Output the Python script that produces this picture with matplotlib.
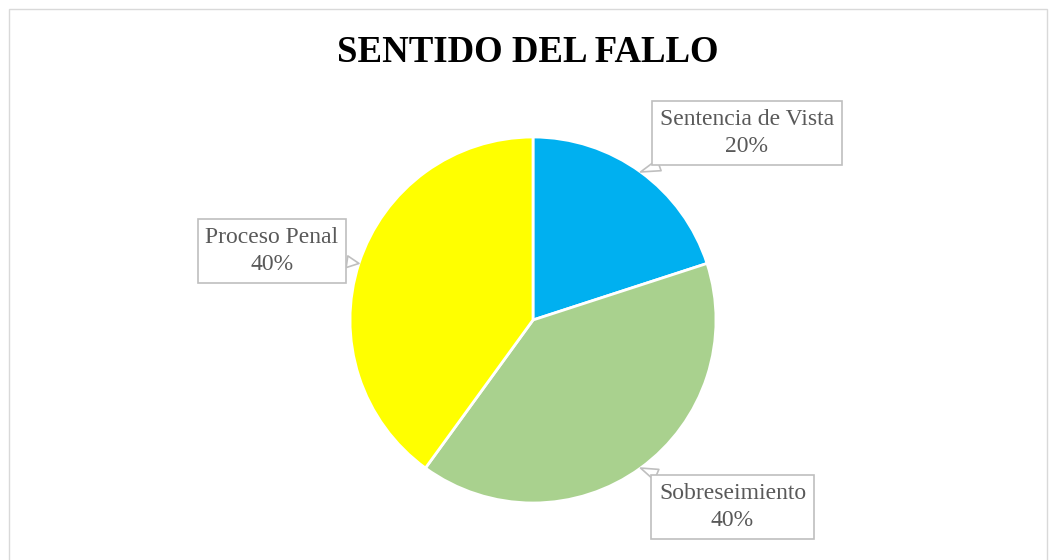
import matplotlib.pyplot as plt
import matplotlib.patches as mpatches
import numpy as np

# Data
labels = ["Sentencia de Vista", "Sobreseimiento", "Proceso Penal"]
values = [20, 40, 40]
colors = ["#00B0F0", "#A9D18E", "#FFFF00"]
title = "SENTIDO DEL FALLO"

# label box centres in pie-axes data units (radius = 1)
label_pos = [(1.169, 1.022), (1.090, -1.022), (-1.426, 0.377)]

plt.rcParams["font.family"] = ["Liberation Serif", "DejaVu Serif"]
TEXT_GRAY = "#595959"
BOX_GRAY = "#BFBFBF"

fig = plt.figure(figsize=(10.55, 5.6), dpi=100, facecolor="white")

# chart frame
fig.patches.append(mpatches.Rectangle((9 / 1055, -0.01), 1038 / 1055, 1 - 9 / 560 + 0.01,
                                      transform=fig.transFigure, fill=False,
                                      edgecolor="#D9D9D9", linewidth=1))

fig.text(0.5, 1 - 53 / 560, title, ha="center", va="center",
         fontsize=26.5, fontweight="bold", color="black")

ax = fig.add_axes([350 / 1055, 57 / 560, 366 / 1055, 366 / 560])
wedges, _ = ax.pie(values, colors=colors, startangle=90, counterclock=False,
                   radius=1, wedgeprops=dict(edgecolor="white", linewidth=2))
ax.set_xlim(-1, 1)
ax.set_ylim(-1, 1)
ax.set_aspect("equal")
ax.axis("off")

total = sum(values)
for w, lab, val, pos in zip(wedges, labels, values, label_pos):
    mid = np.deg2rad((w.theta1 + w.theta2) / 2)
    tip = (np.cos(mid), np.sin(mid))
    ax.annotate(f"{lab}\n{val / total:.0%}", xy=tip, xytext=pos,
                ha="center", va="center", fontsize=17, color=TEXT_GRAY,
                linespacing=1.35, annotation_clip=False,
                bbox=dict(boxstyle="square,pad=0.33", fc="white", ec=BOX_GRAY, lw=1.2),
                arrowprops=dict(arrowstyle="wedge,tail_width=0.5,shrink_factor=0.5",
                                fc="white", ec=BOX_GRAY, lw=1.2,
                                shrinkA=0, shrinkB=0))

fig.savefig("out.png", dpi=100, facecolor="white")
